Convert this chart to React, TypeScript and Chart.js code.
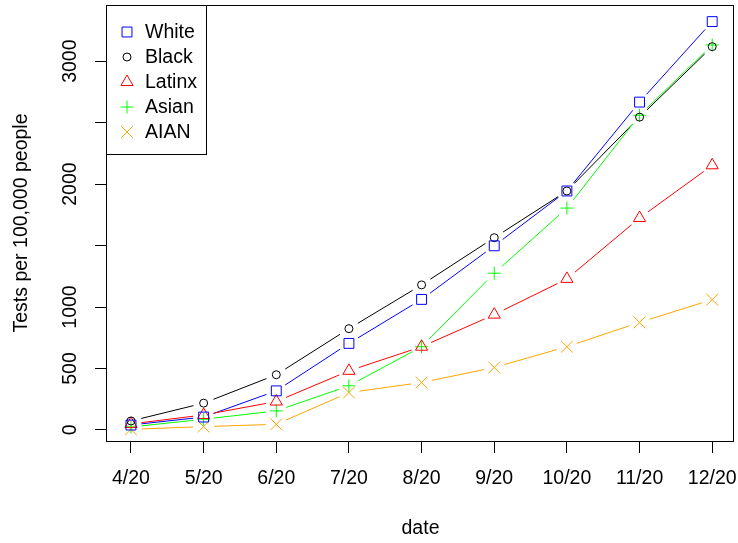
import React, { useEffect, useRef } from 'react';
import { Chart, registerables } from 'chart.js';
import { drawPoint } from 'chart.js/helpers';

Chart.register(...registerables);

const dates = ['4/20', '5/20', '6/20', '7/20', '8/20', '9/20', '10/20', '11/20', '12/20'];
const white = [40, 105, 318, 704, 1062, 1498, 1944, 2667, 3322];
const black = [73, 218, 449, 824, 1180, 1564, 1944, 2545, 3118];
const latinx = [49, 122, 231, 481, 677, 938, 1229, 1724, 2153];
const asian = [24, 87, 155, 359, 677, 1275, 1805, 2560, 3132];
const aian = [5, 27, 46, 304, 386, 508, 677, 875, 1060];

const seriesNames = ['White', 'Black', 'Latinx', 'Asian', 'AIAN'];
const seriesValues = [white, black, latinx, asian, aian];
const seriesColors = ['#0000FF', '#000000', '#FF0000', '#00FF00', '#FFA500'];
const seriesStyles = ['rect', 'circle', 'triangle', 'cross', 'crossRot'];
const seriesRadius = [7, 4, 7, 6.5, 8.3];

const yTickValues = [0, 500, 1000, 1500, 2000, 2500, 3000];
const yTickLabelled = [0, 500, 1000, 2000, 3000];

const FONT = "'Liberation Sans', Arial, sans-serif";
const FS = 19.5;
const GAP = 10.5;

const gapLines = {
  id: 'gapLines',
  beforeDatasetsDraw(chart: any) {
    const ctx = chart.ctx;
    const a = chart.chartArea;
    ctx.save();
    ctx.beginPath();
    ctx.rect(a.left, a.top, a.right - a.left, a.bottom - a.top);
    ctx.clip();
    ctx.lineWidth = 1;
    chart.data.datasets.forEach((ds: any, i: number) => {
      const pts = chart.getDatasetMeta(i).data;
      ctx.strokeStyle = ds.borderColor;
      for (let k = 0; k < pts.length - 1; k++) {
        const p0 = pts[k], p1 = pts[k + 1];
        const dx = p1.x - p0.x, dy = p1.y - p0.y;
        const L = Math.sqrt(dx * dx + dy * dy);
        if (L <= 2 * GAP) continue;
        const ux = dx / L, uy = dy / L;
        ctx.beginPath();
        ctx.moveTo(p0.x + ux * GAP, p0.y + uy * GAP);
        ctx.lineTo(p1.x - ux * GAP, p1.y - uy * GAP);
        ctx.stroke();
      }
    });
    ctx.restore();
  },
  afterDraw(chart: any) {
    const ctx = chart.ctx;
    const a = chart.chartArea;
    ctx.save();
    ctx.strokeStyle = '#000';
    ctx.lineWidth = 1;
    ctx.strokeRect(Math.round(a.left) - 0.5, Math.round(a.top) + 0.5, Math.round(a.right - a.left), Math.round(a.bottom - a.top));
    const lx0 = Math.round(a.left) - 0.5;
    const ly0 = Math.round(a.top) + 0.5;
    ctx.strokeRect(lx0, ly0, 100, 149);
    ctx.font = `${FS}px ${FONT}`;
    ctx.textBaseline = 'middle';
    ctx.textAlign = 'left';
    seriesNames.forEach((name, i) => {
      const y = 32 + i * 25;
      ctx.strokeStyle = seriesColors[i];
      ctx.fillStyle = 'rgba(0,0,0,0)';
      ctx.lineWidth = 1;
      drawPoint(ctx, { pointStyle: seriesStyles[i], radius: seriesRadius[i], rotation: 0, borderWidth: 1 } as any, 127, y);
      ctx.fillStyle = '#000';
      ctx.fillText(name, 145, y + 1);
    });
    ctx.restore();
  },
};

export default function App() {
  const ref = useRef<HTMLCanvasElement>(null);
  useEffect(() => {
    if (!ref.current) return;
    const chart = new Chart(ref.current, {
      type: 'line',
      data: {
        datasets: seriesNames.map((name, i) => ({
          label: name,
          data: seriesValues[i].map((v, j) => ({ x: j, y: v })),
          showLine: false,
          borderColor: seriesColors[i],
          pointBorderColor: seriesColors[i],
          pointBackgroundColor: 'rgba(0,0,0,0)',
          pointStyle: seriesStyles[i] as any,
          pointRadius: seriesRadius[i],
          pointBorderWidth: 1,
          pointHoverRadius: seriesRadius[i],
        })),
      },
      options: {
        animation: false,
        responsive: false,
        devicePixelRatio: 1,
        layout: { autoPadding: false, padding: { top: 5, right: 4, left: 0, bottom: 0 } },
        plugins: { legend: { display: false }, tooltip: { enabled: false } },
        scales: {
          x: {
            type: 'linear',
            min: -0.33,
            max: 8.3,
            afterBuildTicks: (s: any) => { s.ticks = dates.map((_, i) => ({ value: i })); },
            afterFit: (s: any) => { s.height = 102; s.paddingLeft = 0; s.paddingRight = 0; },
            grid: { display: true, drawOnChartArea: false, drawTicks: true, tickLength: 12, tickColor: '#000', color: '#000' },
            border: { display: false },
            ticks: {
              autoSkip: false,
              maxRotation: 0,
              minRotation: 0,
              padding: 14,
              color: '#000',
              font: { family: FONT, size: FS },
              callback: (v: any) => dates[Math.round(v)] ?? '',
            },
            title: { display: true, text: 'date', color: '#000', font: { family: FONT, size: FS }, padding: { top: 0, bottom: 3 } },
          },
          y: {
            type: 'linear',
            min: -90,
            max: 3457,
            afterBuildTicks: (s: any) => { s.ticks = yTickValues.map((v) => ({ value: v })); },
            afterFit: (s: any) => { s.width = 107; s.paddingTop = 0; s.paddingBottom = 0; },
            grid: { display: true, drawOnChartArea: false, drawTicks: true, tickLength: 12, tickColor: '#000', color: '#000' },
            border: { display: false },
            ticks: {
              autoSkip: false,
              minRotation: 90,
              maxRotation: 90,
              crossAlign: 'center',
              padding: 2.6,
              color: '#000',
              font: { family: FONT, size: FS },
              callback: (v: any) => (yTickLabelled.includes(v) ? String(v) : ''),
            },
            title: { display: true, text: 'Tests per 100,000 people', color: '#000', font: { family: FONT, size: FS }, padding: { top: 10, bottom: 0 } },
          },
        },
      },
      plugins: [gapLines],
    });
    return () => chart.destroy();
  }, []);
  return (
    <div style={{ position: 'absolute', left: 0, top: 0, width: 738, height: 543, background: '#fff' }}>
      <canvas ref={ref} width={738} height={543} />
    </div>
  );
}
